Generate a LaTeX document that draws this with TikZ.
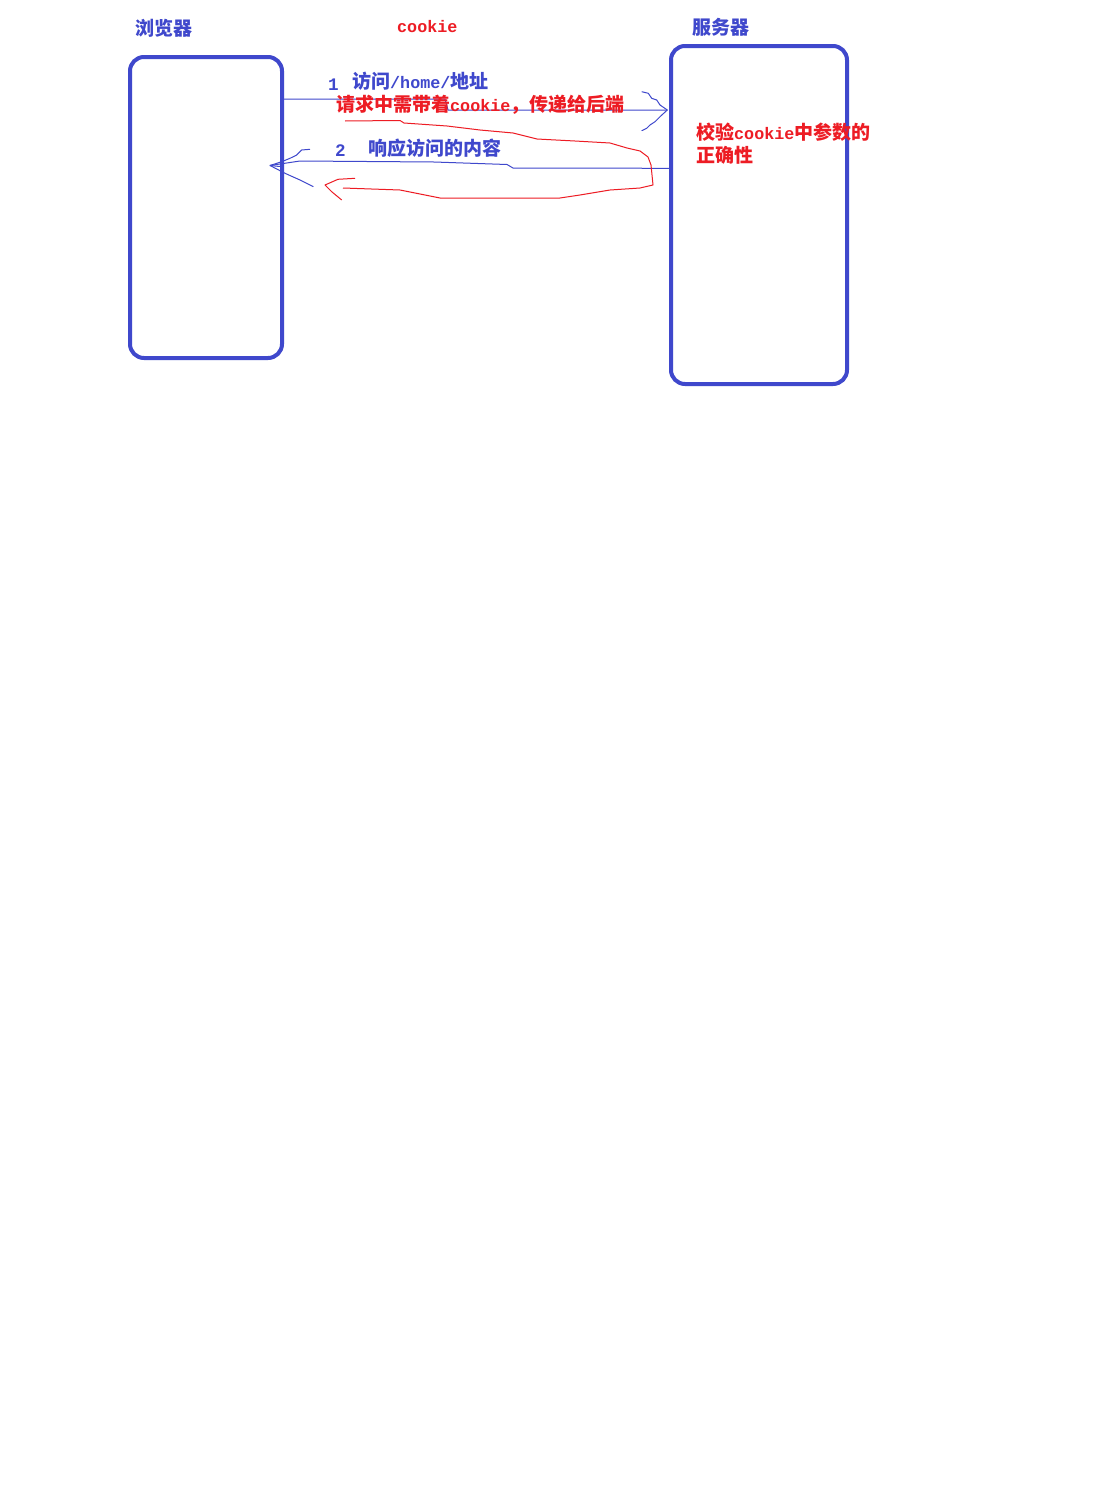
\documentclass[tikz,border=0pt]{standalone}
\usepackage{fontspec}
\usepackage{tikz}
\usetikzlibrary{positioning}
\newfontfamily\cjkfont{Noto Sans CJK SC}
\newfontfamily\latfont[Scale=0.88]{Liberation Mono}
\newcommand{\lt}[1]{{\latfont\bfseries #1}}
\definecolor{pblue}{RGB}{63,72,204}
\definecolor{pred}{RGB}{237,28,36}

\begin{document}
\begin{tikzpicture}[
    x=1pt, y=-1pt,
    pcbox/.style={draw=pblue, line width=4pt, rounded corners=14pt, inner sep=0pt},
    pen/.style={draw=pblue, line width=1pt, line join=round},
    redpen/.style={draw=pred, line width=1pt, line join=round},
    lbl/.style={anchor=west, inner sep=0pt, text=pblue, font=\cjkfont\bfseries\fontsize{19}{19}\selectfont},
    note/.style={anchor=west, inner sep=0pt, text=pred, font=\cjkfont\bfseries\fontsize{19}{19}\selectfont}
]
  \fill[white] (0,0) rectangle (1116,1491);
  \useasboundingbox (0,0) rectangle (1116,1491);

  % boxes
  \node[pcbox, minimum width=152pt, minimum height=301pt] (browser) at (206,207.5) {};
  \node[pcbox, minimum width=176pt, minimum height=338pt] (server) at (759,215) {};

  % titles
  \node[lbl] (browsertitle) at (135,28) {浏览器};
  \node[note, font=\latfont\bfseries\fontsize{19}{19}\selectfont] (cookietitle) at (397,27) {cookie};
  \node[lbl] (servertitle) at (692,27) {服务器};

  % request
  \coordinate (reqtip) at (667.3,110);
  \draw[pen] (browser.east |- 0,99) -- (445,99) -- (448,110) -- (reqtip);
  \draw[pen] (641.7,91.7) -- (648.3,93.3) -- (651.7,98.3) -- (656.7,100) -- (660,105) -- (reqtip)
    -- (660,116.7) -- (655,121.7) -- (650,125) -- (646.7,128.3) -- (641.7,130.7);

  % response
  \coordinate (restip) at (270,165.5);
  \draw[pen] (server.west |- 0,168.3) -- (513,168) -- (507,164.5) -- (434,162) -- (300,161) -- (restip);
  \draw[pen] (310,149.3) -- (301.7,150) -- (296.7,155) -- (290,158.3) -- (281.7,161.7) -- (restip)
    -- (285,173.3) -- (300,180) -- (313.3,186.7);
  \draw[pen] (restip) -- (280,166.5);

  % cookie loop
  \coordinate (loopstart) at (345,121);
  \coordinate (looptip) at (325,185);
  \draw[redpen] (loopstart) -- (400,120.5) -- (404,123) -- (447,126) -- (480,130) -- (513,133)
    -- (537,139) -- (575,141) -- (610,143) -- (627,148) -- (640,151) -- (648,157) -- (651,165)
    -- (652,175) -- (653,185) -- (640,188) -- (610,190) -- (580,195) -- (560,198) -- (440,198)
    -- (425,195) -- (400,190) -- (343,188);
  \draw[redpen] (355,178.3) -- (338,179.3) -- (looptip) -- (331.7,191.7) -- (341.7,200);

  % labels
  \node[lbl, font=\latfont\bfseries\fontsize{20}{20}\selectfont] (reqnum) at (328,85) {1};
  \node[lbl] (reqtext) at (352,81) {访问\lt{/home/}地址};
  \node[note] (reqnote) at (336,105) {请求中需带着\lt{cookie}，传递给后端};
  \node[lbl, font=\latfont\bfseries\fontsize{20}{20}\selectfont] (resnum) at (335,151) {2};
  \node[lbl] (restext) at (368,148) {响应访问的内容};
  \node[note] (checknote) at (696,132) {校验\lt{cookie}中参数的};
  \node[note, below=5pt of checknote.south west, anchor=north west] (checknote2) {正确性};
\end{tikzpicture}
\end{document}
